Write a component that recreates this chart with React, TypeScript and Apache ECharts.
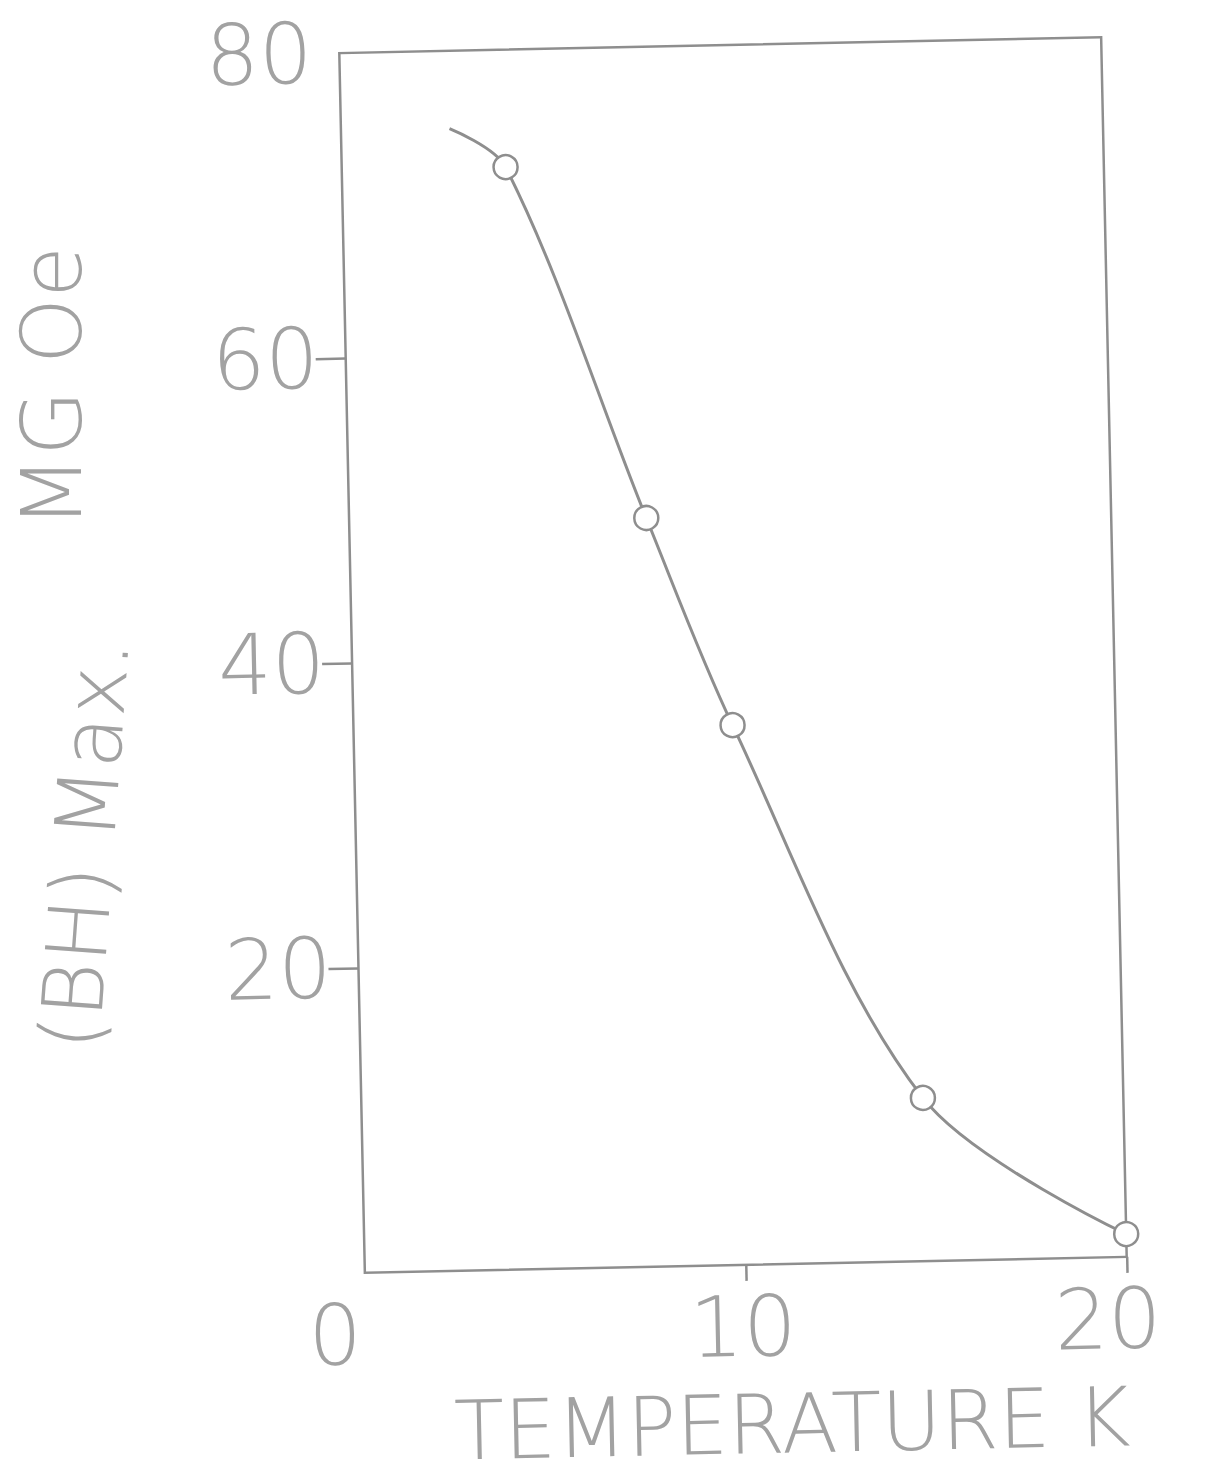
import React, { useEffect, useRef } from "react";
import * as echarts from "echarts";

// Measured points (open circles): temperature in K, (BH)max in MG Oe
const tempK = [4.3, 7.8, 9.95, 14.74, 20.0];
const bhMax = [72.3, 49.1, 35.4, 10.7, 1.5];
// Where the hand-drawn curve starts (left of the first circle)
const curveStartT = [2.85];
const curveStartBH = [74.9];
// Axis ticks and labels
const xTickLabels = [0, 10, 20];
const xTickMarks = [10, 20];
const yTickLabels = [20, 40, 60, 80];
const yTickMarks = [20, 40, 60];
const xTitle = "TEMPERATURE K";
const yTitleQuantity = "(BH) Max.";
const yTitleUnit = "MG Oe";

export default function App() {
  const ref = useRef<HTMLDivElement>(null);

  useEffect(() => {
    if (!ref.current) return;
    const chart = echarts.init(ref.current, null, { renderer: "svg" });
    const ink = "#8e8e8e";
    const textInk = "#a2a2a2";
    const family = "'DejaVu Sans', 'Open Sans', sans-serif";
    const weight = 200;

    const curve = [
      ...curveStartT.map((t, i) => [t, curveStartBH[i]]),
      ...tempK.map((t, i) => [t, bhMax[i]]),
    ];
    const points = tempK.map((t, i) => [t, bhMax[i]]);

    const labelBase = { fontSize: 84, fontFamily: family, fontWeight: weight, color: textInk };
    const titleStyle = {
      fontSize: 84,
      lineHeight: 70,
      fontFamily: family,
      fontWeight: weight,
      fill: textInk,
      align: "center",
      verticalAlign: "middle",
      textAlign: "center",
      textVerticalAlign: "middle",
    };

    chart.setOption({
      animation: false,
      backgroundColor: "#ffffff",
      grid: {
        left: 352,
        top: 45,
        width: 762,
        height: 1220,
        show: true,
        borderColor: ink,
        borderWidth: 2.5,
        backgroundColor: "transparent",
      },
      xAxis: {
        type: "value",
        min: 0,
        max: 20,
        interval: 10,
        axisLine: { show: false },
        splitLine: { show: false },
        axisTick: {
          show: true,
          customValues: xTickMarks,
          length: 16,
          lineStyle: { color: ink, width: 2.5 },
        },
        axisLabel: {
          customValues: xTickLabels,
          margin: 20,
          ...labelBase,
          formatter: (v: number) =>
            v === 0 ? "{z|" + v + "}" : v === 20 ? "{t|" + v + "}" : "{n|" + v + "}",
          rich: {
            z: { ...labelBase, padding: [0, 62, 0, 0] },
            n: { ...labelBase, padding: [0, 8, 0, 0] },
            t: { ...labelBase, padding: [0, 40, 0, 0] },
          },
        },
      },
      yAxis: {
        type: "value",
        min: 0,
        max: 80,
        interval: 20,
        axisLine: { show: false },
        splitLine: { show: false },
        axisTick: {
          show: true,
          customValues: yTickMarks,
          length: 30,
          lineStyle: { color: ink, width: 2.5 },
        },
        axisLabel: {
          customValues: yTickLabels,
          margin: 27,
          ...labelBase,
        },
      },
      graphic: [
        {
          type: "text",
          x: 776,
          y: 1425,
          style: { text: xTitle, ...titleStyle, fontSize: 82 },
        },
        {
          type: "text",
          x: 81,
          y: 831,
          rotation: (84.6 * Math.PI) / 180,
          style: { text: yTitleQuantity, ...titleStyle },
        },
        {
          type: "text",
          x: 58,
          y: 373,
          rotation: (88.8 * Math.PI) / 180,
          style: { text: yTitleUnit, ...titleStyle },
        },
      ],
      series: [
        {
          type: "line",
          data: curve,
          smooth: 0.33,
          showSymbol: false,
          lineStyle: { color: ink, width: 3 },
          z: 2,
        },
        {
          type: "scatter",
          data: points,
          symbol: "circle",
          symbolSize: 24,
          itemStyle: { color: "#ffffff", borderColor: ink, borderWidth: 2.5, opacity: 1 },
          z: 3,
        },
      ],
    });

    return () => chart.dispose();
  }, []);

  return (
    <div
      style={{
        position: "absolute",
        left: 0,
        top: 0,
        width: 1208,
        height: 1483,
        overflow: "hidden",
        background: "#ffffff",
      }}
    >
      <div
        ref={ref}
        style={{
          position: "absolute",
          left: 0,
          top: 0,
          width: 1208,
          height: 1483,
          transform: "rotate(-1.2deg)",
          transformOrigin: "733px 655px",
        }}
      />
    </div>
  );
}
